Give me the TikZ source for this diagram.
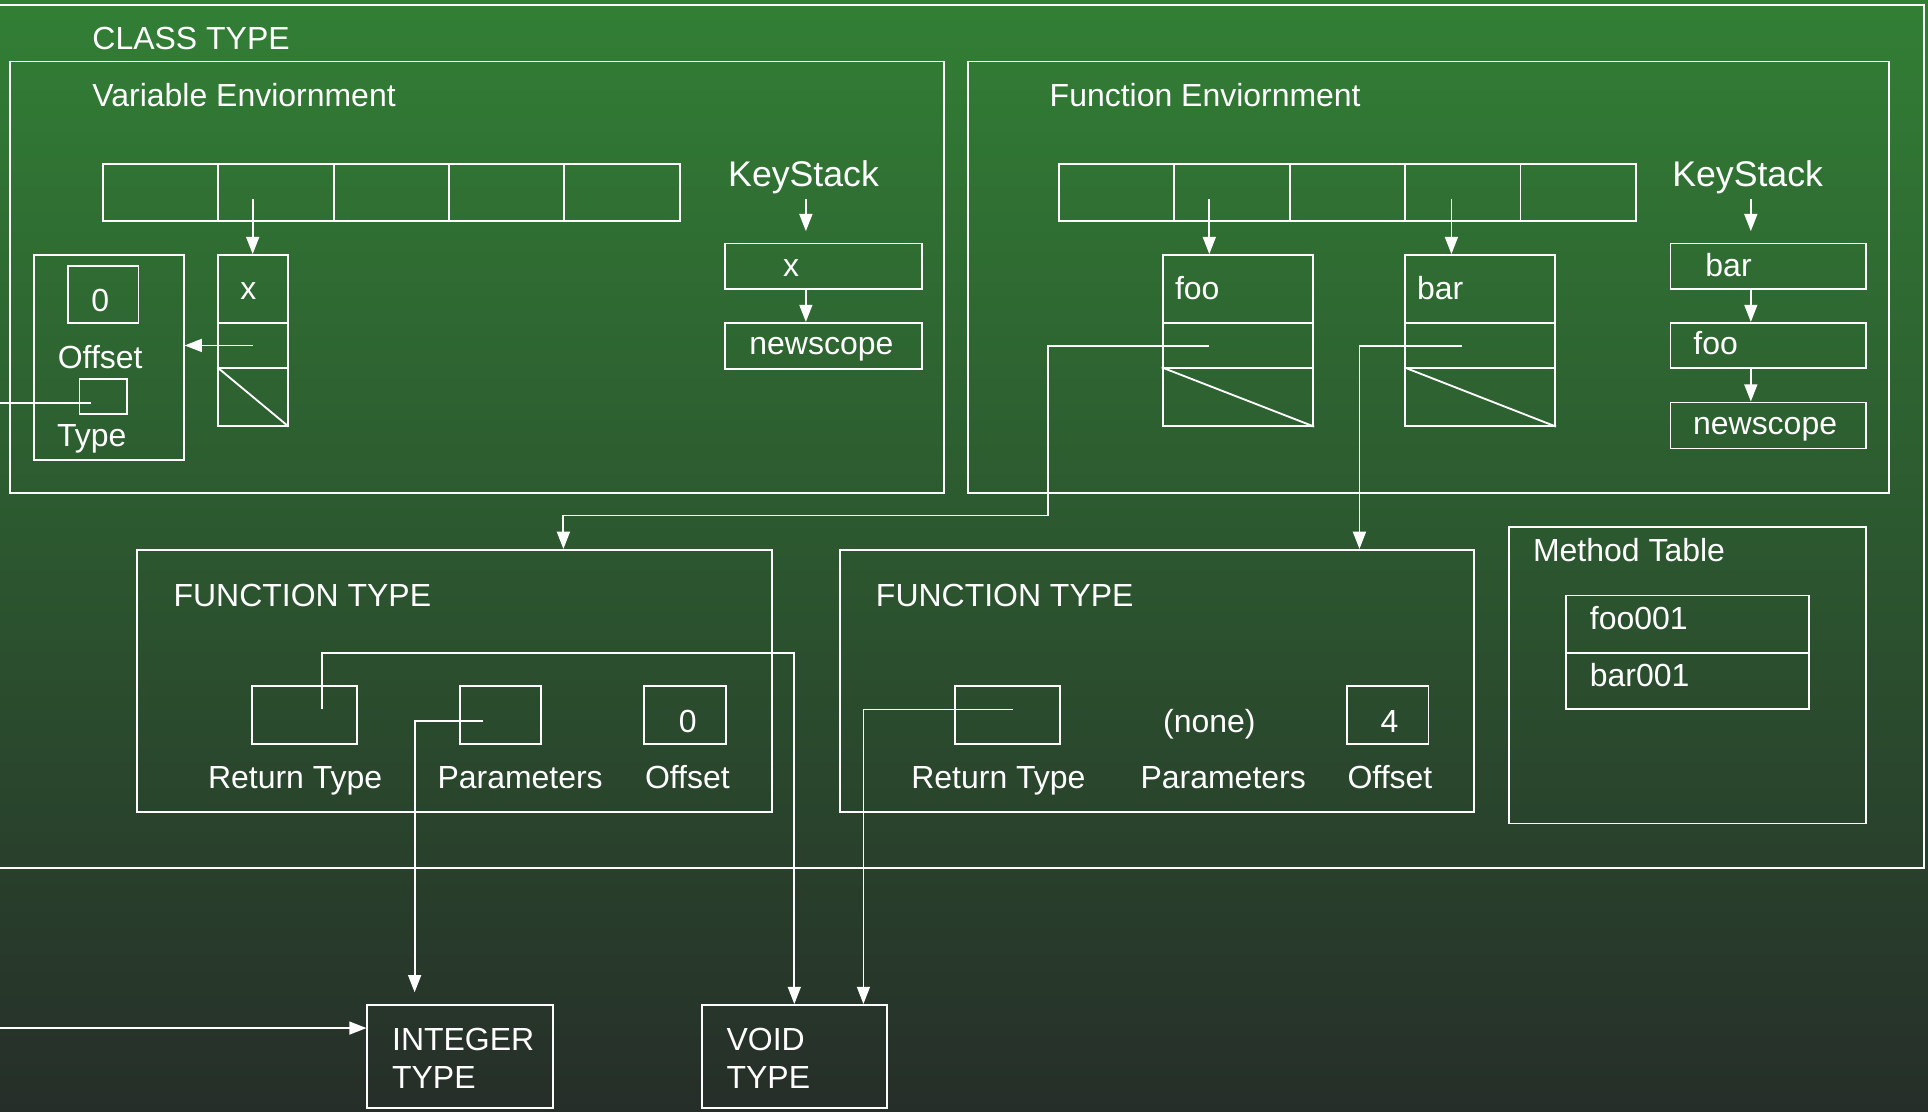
\documentclass[tikz,border=0pt]{standalone}
\usepackage{fontspec}
\setmainfont{Liberation Sans}
\usetikzlibrary{arrows.meta,fit}
\definecolor{bgtop}{RGB}{50,127,53}
\definecolor{bgbot}{RGB}{38,46,41}
\newcommand\mybox[5]{\node[bx,fit={(#2,#3)(#4,#5)}] (#1) {};}
\begin{document}
\begin{tikzpicture}[x=1pt,y=-1pt,
  bx/.style={draw=white,line width=1.5pt,inner sep=0pt,rectangle},
  ln/.style={draw=white,line width=1.5pt},
  arr/.style={draw=white,line width=1.5pt,-{Triangle[length=14pt,width=10.5pt]}},
  txt/.style={text=white,inner sep=0pt,font=\fontsize{26}{30}\selectfont},
  tk/.style={txt,font=\fontsize{29}{34}\selectfont}]
% background
\shade[top color=bgtop,bottom color=bgbot] (0,0) rectangle (1568,904);
\useasboundingbox (0,0) rectangle (1568,904);

% class type
\mybox{cls}{-10}{4}{1565}{706}
\node[txt,anchor=base west] (clst) at (75,40.5) {CLASS TYPE};

% ---------- variable environment ----------
\mybox{venv}{8}{50}{768}{401}
\node[txt,anchor=base west] (venvt) at (75,87) {Variable Enviornment};
\foreach \i in {1,...,5} {
  \node[bx,fit={({83.7+93.8*(\i-1)},133.4)({83.7+93.8*\i},179.5)}] (vA\i) {};
}
\mybox{xk}{177.5}{207.4}{234}{262.4}
\mybox{xv}{177.5}{262.4}{234}{299.5}
\mybox{xn}{177.5}{299.5}{234}{346.2}
\draw[ln] (xn.north west) -- (xn.south east);
\node[txt,anchor=base] (xkt) at (202,243.5) {x};
\coordinate (xa) at (205.5,162);
\draw[arr] (xa) -- (xa |- xk.north);

\mybox{vinfo}{27.4}{207.4}{149.4}{374}
\draw[arr] (xv.center) -- (xv.center -| vinfo.east);
\mybox{voff}{55.3}{216.5}{112.6}{263}
\node[txt,anchor=base] (vofft) at (81.5,253.5) {0};
\node[txt,anchor=base] (voffl) at (81.5,299.5) {Offset};
\mybox{vtype}{64.7}{308.5}{103}{336.7}
\node[txt,anchor=base west] (vtypel) at (46.3,363.5) {Type};
\coordinate (tin) at (0,327.5);
\coordinate (tend) at (74,327.5);
\draw[ln] (tin) -- (tend);

\node[tk,anchor=base] (vks) at (653.5,151.5) {KeyStack};
\mybox{vk1}{589.7}{198}{749.5}{235.3}
\node[txt,anchor=base] (vk1t) at (643.4,225) {x};
\mybox{vk2}{589.7}{262.6}{749.5}{300}
\node[txt,anchor=base] (vk2t) at (668,288.5) {newscope};
\coordinate (vka) at (655.4,162);
\coordinate (vkb) at (655.4,188);
\draw[arr] (vka) -- (vkb);
\draw[arr] (vka |- vk1.south) -- (vka |- vk2.north);

% ---------- function environment ----------
\mybox{fenv}{787}{50}{1536.3}{401}
\node[txt,anchor=base west] (fenvt) at (853.5,87) {Function Enviornment};
\foreach \i in {1,...,5} {
  \node[bx,fit={({861+93.9*(\i-1)},133.4)({861+93.9*\i},179.5)}] (fA\i) {};
}
\mybox{fook}{945.5}{207.4}{1068}{262.4}
\mybox{foov}{945.5}{262.4}{1068}{299.5}
\mybox{foon}{945.5}{299.5}{1068}{346.2}
\draw[ln] (foon.north west) -- (foon.south east);
\node[txt,anchor=base west] (fookt) at (955.4,243.5) {foo};
\mybox{bark}{1142.7}{207.4}{1264.7}{262.4}
\mybox{barv}{1142.7}{262.4}{1264.7}{299.5}
\mybox{barn}{1142.7}{299.5}{1264.7}{346.2}
\draw[ln] (barn.north west) -- (barn.south east);
\node[txt,anchor=base west] (barkt) at (1152.2,243.5) {bar};
\coordinate (fooa) at (983.5,162);
\draw[arr] (fooa) -- (fooa |- fook.north);
\coordinate (bara) at (1180.4,162);
\draw[arr] (bara) -- (bara |- bark.north);

\node[tk,anchor=base] (fks) at (1421.3,151.5) {KeyStack};
\mybox{fk1}{1358.5}{198}{1517.6}{235.3}
\node[txt,anchor=base west] (fk1t) at (1386.8,225) {bar};
\mybox{fk2}{1358.5}{262.6}{1517.6}{299.5}
\node[txt,anchor=base west] (fk2t) at (1377,288.5) {foo};
\mybox{fk3}{1358.5}{327.3}{1517.6}{364.7}
\node[txt,anchor=base] (fk3t) at (1435.5,353.5) {newscope};
\coordinate (fka) at (1423.9,162);
\coordinate (fkb) at (1423.9,188);
\draw[arr] (fka) -- (fkb);
\draw[arr] (fka |- fk1.south) -- (fka |- fk2.north);
\draw[arr] (fka |- fk2.south) -- (fka |- fk3.north);

% ---------- function type 1 ----------
\mybox{ft1}{111.6}{447.2}{627.5}{660.2}
\node[txt,anchor=base west] (ft1t) at (141,493) {FUNCTION TYPE};
\mybox{ft1r}{205.2}{558.2}{290.3}{605.3}
\mybox{ft1p}{374}{558.2}{439.8}{605.3}
\mybox{ft1o}{523.9}{558.2}{590.7}{605.3}
\node[txt,anchor=base] (ft1ov) at (559.3,595.5) {0};
\node[txt,anchor=base] (ft1rl) at (240,641.2) {Return Type};
\node[txt,anchor=base] (ft1pl) at (423,641.2) {Parameters};
\node[txt,anchor=base] (ft1ol) at (559,641.2) {Offset};

% ---------- function type 2 ----------
\mybox{ft2}{683.3}{447.2}{1199}{660.2}
\node[txt,anchor=base west] (ft2t) at (712.2,493) {FUNCTION TYPE};
\mybox{ft2r}{777}{558.2}{862}{605.3}
\node[txt,anchor=base] (ft2pv) at (983.5,595.5) {(none)};
\mybox{ft2o}{1095.5}{558.2}{1161.8}{605.3}
\node[txt,anchor=base] (ft2ov) at (1130,595.5) {4};
\node[txt,anchor=base] (ft2rl) at (812,641.2) {Return Type};
\node[txt,anchor=base] (ft2pl) at (994.8,641.2) {Parameters};
\node[txt,anchor=base] (ft2ol) at (1130.4,641.2) {Offset};

% ---------- method table ----------
\mybox{mt}{1227}{428.8}{1517.6}{669.7}
\node[txt,anchor=base west] (mtt) at (1246.6,456.7) {Method Table};
\mybox{mt1}{1273.7}{484.3}{1471}{530.9}
\mybox{mt2}{1273.7}{530.9}{1471}{576.8}
\node[txt,anchor=base west] (mt1t) at (1292.8,512) {foo001};
\node[txt,anchor=base west] (mt2t) at (1292.8,558.5) {bar001};

% ---------- primitive types ----------
\mybox{int}{298.8}{817.3}{449.7}{901}
\node[txt,anchor=base west] (intt1) at (318.7,854.5) {INTEGER};
\node[txt,anchor=base west] (intt2) at (318.7,885.5) {TYPE};
\mybox{void}{571.2}{817.3}{721.1}{901}
\node[txt,anchor=base west] (voidt1) at (590.7,854.5) {VOID};
\node[txt,anchor=base west] (voidt2) at (590.7,885.5) {TYPE};

% ---------- connectors ----------
\coordinate (foos) at (983.5,281.4);
\coordinate (fooc) at (852,419.3);
\draw[arr] (foos) -| (fooc) -| (ft1.north -| 458.2,0);
\coordinate (bars) at (1189,281.4);
\draw[arr] (bars) -| (ft2.north -| 1105.6,0);
\coordinate (r1s) at (262,577);
\coordinate (r1c) at (646,531);
\draw[arr] (r1s) |- (r1c) -- (r1c |- void.north);
\coordinate (p1s) at (393,586.5);
\coordinate (p1e) at (337.2,807);
\draw[arr] (p1s) -| (p1e);
\coordinate (r2s) at (824,577);
\draw[arr] (r2s) -| (void.north -| 702.2,0);
\coordinate (ins) at (0,836.1);
\draw[arr] (ins) -- (ins -| int.west);
\end{tikzpicture}
\end{document}
